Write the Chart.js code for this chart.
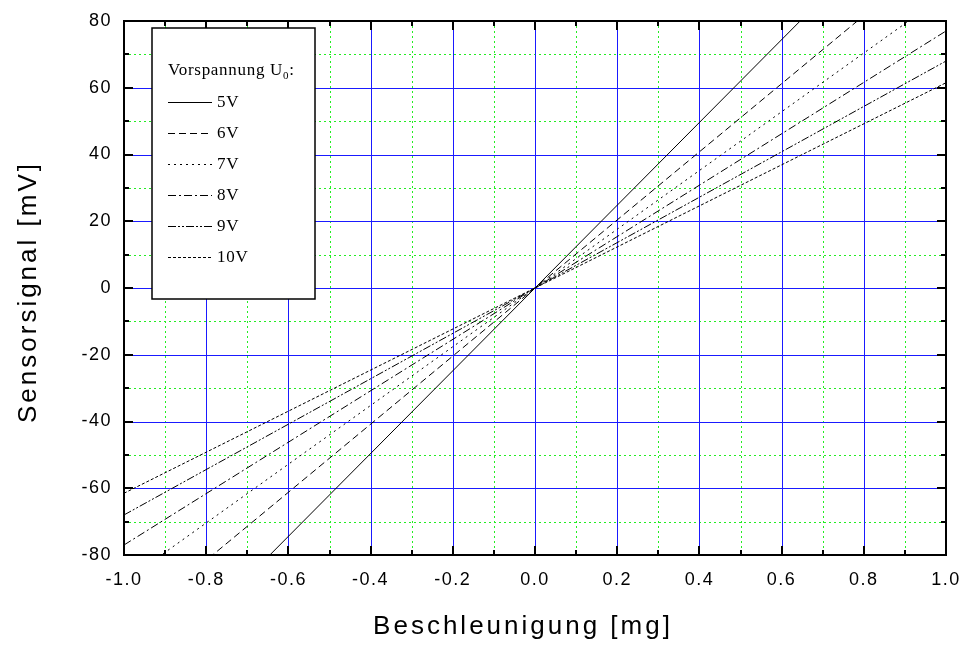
<!DOCTYPE html>
<html>
<head>
<meta charset="utf-8">
<script src="https://cdn.jsdelivr.net/npm/chart.js@4/dist/chart.umd.min.js"></script>
<style>
  html, body { margin: 0; padding: 0; background: #fff; }
  #chart { display: block; }
</style>
</head>
<body>
<canvas id="chart" width="964" height="645"></canvas>
<script>
// Beschleunigung [mg] an den Stützstellen
const accel = [-1.0, 0.0, 1.0];

// Sensorsignal [mV] je Vorspannung
const signal5V  = [-124, 0, 124];
const signal6V  = [-102, 0, 102];
const signal7V  = [-88, 0, 88];
const signal8V  = [-77, 0, 77];
const signal9V  = [-68, 0, 68];
const signal10V = [-61.5, 0, 61.5];

const seriesLabels = ['5V', '6V', '7V', '8V', '9V', '10V'];
const seriesValues = [signal5V, signal6V, signal7V, signal8V, signal9V, signal10V];
const seriesDash = [[], [7, 4], [2, 4], [8, 3, 2, 3], [8, 2, 2, 2, 2, 2], [3, 2]];

const xTitle = 'Beschleunigung [mg]';
const yTitle = 'Sensorsignal [mV]';
const legendTitle = 'Vorspannung U';

const datasets = seriesLabels.map((label, i) => ({
    label: label,
    data: accel.map((x, j) => ({ x: x, y: seriesValues[i][j] })),
    borderColor: '#000',
    borderWidth: 1,
    borderDash: seriesDash[i],
    pointRadius: 0,
    fill: false,
    tension: 0
}));

// Gitter, Ticks, Rahmen, Legende und Achsentitel
const gridPlugin = {
    id: 'gridPlugin',
    beforeDraw(chart) {
        chart.ctx.letterSpacing = '1.5px';
    },
    beforeDatasetsDraw(chart) {
        const { ctx, chartArea: a, scales: { x, y } } = chart;
        const xt = x.ticks.map(t => t.value);
        const yt = y.ticks.map(t => t.value);
        ctx.save();
        ctx.letterSpacing = '0px';
        ctx.lineWidth = 1;
        // Nebenlinien (grün gepunktet)
        ctx.strokeStyle = '#22ee22';
        ctx.setLineDash([2, 3]);
        for (let i = 0; i < xt.length - 1; i++) {
            const px = Math.round(x.getPixelForValue((xt[i] + xt[i + 1]) / 2)) + 0.5;
            ctx.beginPath(); ctx.moveTo(px, a.top); ctx.lineTo(px, a.bottom); ctx.stroke();
        }
        for (let i = 0; i < yt.length - 1; i++) {
            const py = Math.round(y.getPixelForValue((yt[i] + yt[i + 1]) / 2)) + 0.5;
            ctx.beginPath(); ctx.moveTo(a.left, py); ctx.lineTo(a.right, py); ctx.stroke();
        }
        // Hauptlinien (blau)
        ctx.setLineDash([]);
        ctx.strokeStyle = '#1a1aff';
        xt.slice(1, -1).forEach(v => {
            const px = Math.round(x.getPixelForValue(v)) + 0.5;
            ctx.beginPath(); ctx.moveTo(px, a.top); ctx.lineTo(px, a.bottom); ctx.stroke();
        });
        yt.slice(1, -1).forEach(v => {
            const py = Math.round(y.getPixelForValue(v)) + 0.5;
            ctx.beginPath(); ctx.moveTo(a.left, py); ctx.lineTo(a.right, py); ctx.stroke();
        });
        ctx.restore();
    },
    afterDatasetsDraw(chart) {
        const { ctx, chartArea: a, scales: { x, y } } = chart;
        const xt = x.ticks.map(t => t.value);
        const yt = y.ticks.map(t => t.value);
        ctx.save();
        ctx.letterSpacing = '0px';
        ctx.strokeStyle = '#000';
        ctx.lineWidth = 2;
        ctx.setLineDash([]);

        // Ticks nach innen, alle vier Seiten
        const tickX = (v, len) => {
            const px = Math.round(x.getPixelForValue(v));
            ctx.beginPath();
            ctx.moveTo(px, a.bottom); ctx.lineTo(px, a.bottom - len);
            ctx.moveTo(px, a.top); ctx.lineTo(px, a.top + len);
            ctx.stroke();
        };
        const tickY = (v, len) => {
            const py = Math.round(y.getPixelForValue(v));
            ctx.beginPath();
            ctx.moveTo(a.left, py); ctx.lineTo(a.left + len, py);
            ctx.moveTo(a.right, py); ctx.lineTo(a.right - len, py);
            ctx.stroke();
        };
        xt.forEach(v => tickX(v, 9));
        yt.forEach(v => tickY(v, 9));
        for (let i = 0; i < xt.length - 1; i++) tickX((xt[i] + xt[i + 1]) / 2, 5);
        for (let i = 0; i < yt.length - 1; i++) tickY((yt[i] + yt[i + 1]) / 2, 5);

        // Rahmen
        ctx.strokeRect(a.left, a.top, a.right - a.left, a.bottom - a.top);

        // Legende
        const bx = 152, by = 28, bw = 163, bh = 271;
        ctx.fillStyle = '#fff';
        ctx.fillRect(bx, by, bw, bh);
        ctx.lineWidth = 1.5;
        ctx.strokeRect(bx, by, bw, bh);

        ctx.fillStyle = '#000';
        ctx.textBaseline = 'alphabetic';
        ctx.textAlign = 'left';
        ctx.letterSpacing = '0.7px';
        ctx.font = '17px "Liberation Serif", serif';
        ctx.fillText(legendTitle, 168, 75);
        const tw = ctx.measureText(legendTitle).width;
        ctx.font = '11px "Liberation Serif", serif';
        ctx.fillText('0', 168 + tw, 79);
        const sw = ctx.measureText('0').width;
        ctx.font = '17px "Liberation Serif", serif';
        ctx.fillText(':', 168 + tw + sw, 75);

        chart.data.datasets.forEach((ds, i) => {
            const ly = 101.5 + i * 31.1;
            ctx.lineWidth = 1;
            ctx.setLineDash(ds.borderDash);
            ctx.beginPath();
            ctx.moveTo(168, Math.round(ly) + 0.5);
            ctx.lineTo(212, Math.round(ly) + 0.5);
            ctx.stroke();
            ctx.setLineDash([]);
            ctx.fillText(ds.label, 217, ly + 5);
        });
        ctx.restore();
    },
    afterDraw(chart) {
        const ctx = chart.ctx;
        ctx.save();
        ctx.fillStyle = '#000';
        ctx.font = '26px "Liberation Sans", Arial, sans-serif';
        ctx.letterSpacing = '3px';
        ctx.textAlign = 'center';
        ctx.textBaseline = 'alphabetic';
        ctx.fillText(xTitle, 523, 634);
        ctx.translate(36, 292);
        ctx.rotate(-Math.PI / 2);
        ctx.fillText(yTitle, 0, 0);
        ctx.restore();
        ctx.letterSpacing = '0px';
    }
};

new Chart(document.getElementById('chart'), {
    type: 'line',
    data: { datasets: datasets },
    options: {
        responsive: false,
        animation: false,
        layout: { padding: { top: 21, right: 18, left: 0, bottom: 0 } },
        plugins: {
            legend: { display: false },
            tooltip: { enabled: false }
        },
        scales: {
            x: {
                type: 'linear',
                min: -1,
                max: 1,
                grid: { display: false, drawTicks: false },
                border: { display: false },
                ticks: {
                    stepSize: 0.2,
                    padding: 14,
                    color: '#000',
                    font: { family: '"Liberation Sans", Arial, sans-serif', size: 18 },
                    maxRotation: 0,
                    callback: v => (Math.abs(v) < 1e-9 ? 0 : v).toFixed(1)
                },
                afterFit: scale => {
                    scale.height = 90;
                    scale.paddingLeft = 0;
                    scale.paddingRight = 0;
                }
            },
            y: {
                type: 'linear',
                min: -80,
                max: 80,
                grid: { display: false, drawTicks: false },
                border: { display: false },
                ticks: {
                    stepSize: 20,
                    padding: 12,
                    color: '#000',
                    font: { family: '"Liberation Sans", Arial, sans-serif', size: 18 },
                    callback: v => Math.round(v)
                },
                afterFit: scale => {
                    scale.width = 124;
                    scale.paddingTop = 0;
                    scale.paddingBottom = 0;
                }
            }
        }
    },
    plugins: [gridPlugin]
});
</script>
</body>
</html>
